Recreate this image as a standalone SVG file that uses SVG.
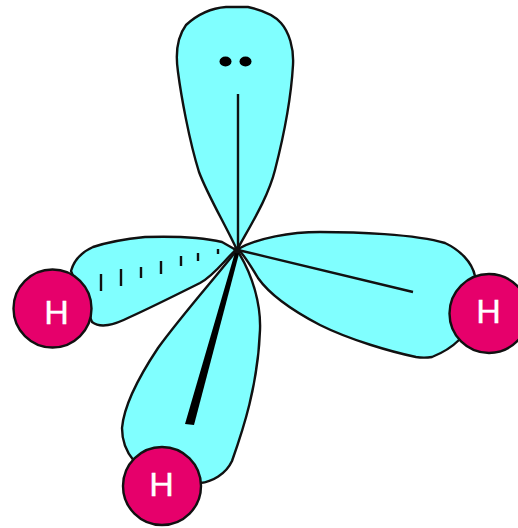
<svg xmlns="http://www.w3.org/2000/svg" width="518" height="528" viewBox="0 0 518 528">
<style>
.lobe{fill:#80ffff;stroke:#111;stroke-width:2.400;stroke-linejoin:round}
.atom{fill:#e6006b;stroke:#111;stroke-width:2.400}
.lbl{fill:#fff;font-family:"Liberation Sans",Arial,sans-serif;font-size:34px;text-anchor:middle;stroke:#fff;stroke-width:.4}
.b{stroke:#111;fill:none;stroke-width:2.400}
</style>
<rect width="518" height="528" fill="#fff"/>
<g id="lobe-top"><path class="lobe" d="M237 250C226 226 208 196 199 172C189 140 181 95 178 72C175 52 178 36 186 25C198 14 212 8 226 7C232 7 242 7 248 7C262 10 275 16 281 23C289 32 294 48 293 65C291 100 284 135 275 170C268 198 250 226 237 250Z"/></g>
<g id="lobe-left"><path class="lobe" d="M222 242C205 238 175 236 145 237C125 239 105 243 93 247C82 252 74 260 71 271L92 322C96 325 102 326 108 325C116 324 122 321 130 317C150 308 180 293 200 283C215 275 226 258 236 250Z"/></g>
<g id="lobe-right"><path class="lobe" d="M238 249C258 238 290 232 320 232C355 232 415 234 445 243C460 250 472 262 475 276L459 340C452 347 442 353 432 357C426 358 422 358 416 357C392 352 350 340 320 325C295 312 270 295 258 278C252 268 245 256 238 249Z"/></g>
<g id="lobe-bottom"><path class="lobe" d="M237 250C215 278 182 315 158 348C140 375 124 405 122 428C122 442 128 454 134 461L200 483C212 482 226 474 232 461C243 430 258 385 260 330C261 305 253 275 237 250Z"/></g>
<g id="connectors">
<path class="b" d="M238 94V250M238 250L413 292"/>
<path d="M236 249L240 250L194 425L185 424Z" fill="#000"/>
<path class="b" d="M101 274V291M121 269V286M141 267V278M161 261V274M181 256V266M198 253V261M218 249V254"/>
<ellipse cx="225.500" cy="61.500" rx="6" ry="5" fill="#000"/><ellipse cx="245.500" cy="61.500" rx="6" ry="5" fill="#000"/>
<circle cx="237" cy="250" r="3.500" fill="#111"/>
</g>
<g id="h-left"><circle class="atom" cx="52.500" cy="308.500" r="39"/><text class="lbl" x="56.500" y="324">H</text></g>
<g id="h-right"><circle class="atom" cx="489" cy="313.500" r="39.500"/><text class="lbl" x="488.500" y="323">H</text></g>
<g id="h-bottom"><circle class="atom" cx="162" cy="486" r="39"/><text class="lbl" x="161.500" y="496">H</text></g>
</svg>
